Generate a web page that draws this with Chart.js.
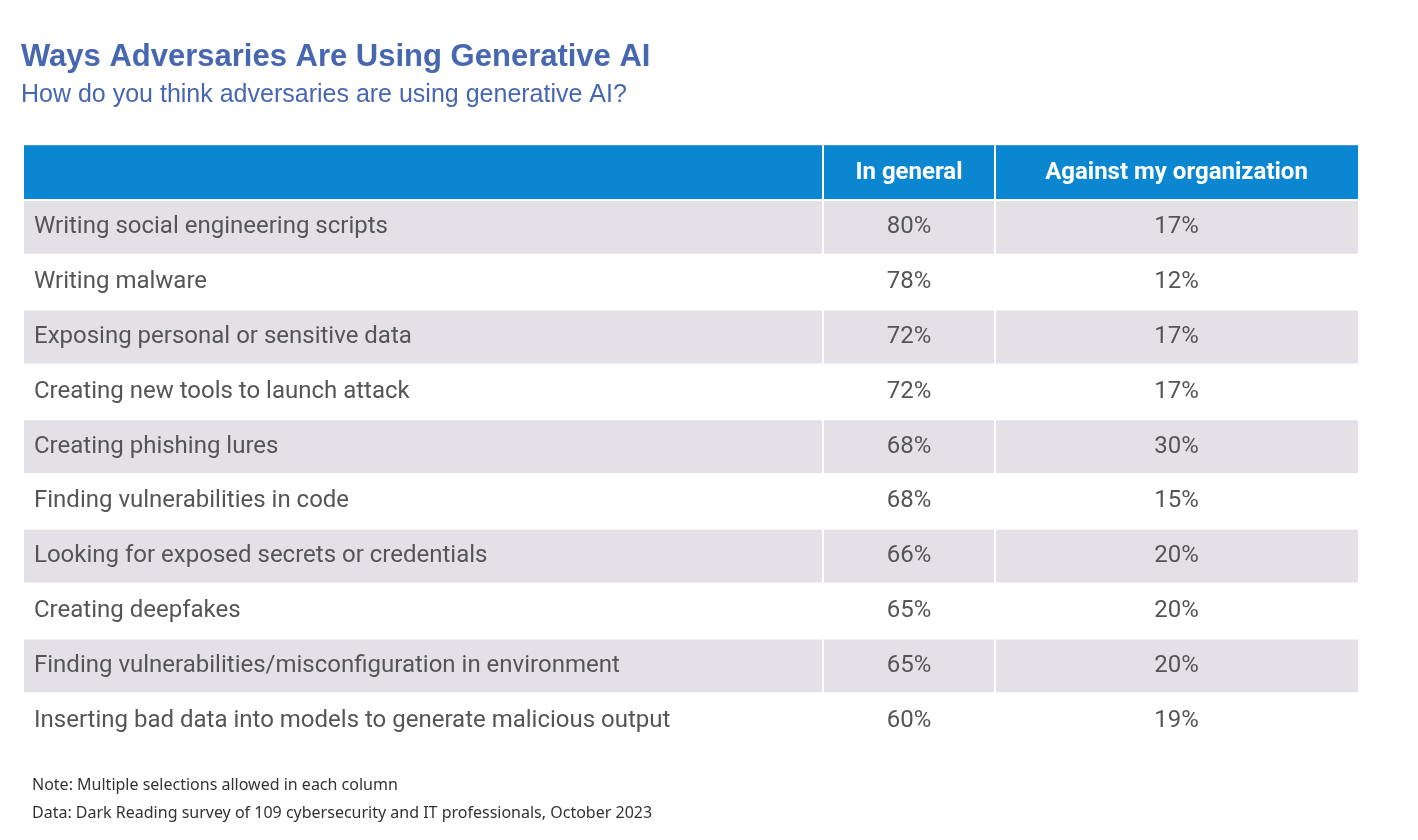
<!DOCTYPE html>
<html>
<head>
<meta charset="utf-8">
<script src="https://cdn.jsdelivr.net/npm/chart.js@4/dist/chart.umd.min.js"></script>
<style>
  html, body { margin: 0; padding: 0; background: #fff; }
  #wrap { width: 1418px; height: 840px; }
</style>
</head>
<body>
<div id="wrap"><canvas id="tbl"></canvas></div>
<script>
const titleText = 'Ways Adversaries Are Using Generative AI';
const subtitleText = 'How do you think adversaries are using generative AI?';
const columns = ['In general', 'Against my organization'];
const categories = [
    'Writing social engineering scripts',
    'Writing malware',
    'Exposing personal or sensitive data',
    'Creating new tools to launch attack',
    'Creating phishing lures',
    'Finding vulnerabilities in code',
    'Looking for exposed secrets or credentials',
    'Creating deepfakes',
    'Finding vulnerabilities/misconfiguration in environment',
    'Inserting bad data into models to generate malicious output'
];
const inGeneral = [80, 78, 72, 72, 68, 68, 66, 65, 65, 60];
const againstOrg = [17, 12, 17, 17, 30, 15, 20, 20, 20, 19];
const notes = [
    'Note: Multiple selections allowed in each column',
    'Data: Dark Reading survey of 109 cybersecurity and IT professionals, October 2023'
];

// draws the table cells from the y category scale
const tablePlugin = {
    id: 'tablePlugin',
    afterDraw(chart) {
        const ctx = chart.ctx;
        const area = chart.chartArea;
        const y = chart.scales.y;
        const rowH = y.getPixelForValue(1) - y.getPixelForValue(0);
        const col1 = 823, col2 = 995;

        ctx.save();
        // title
        ctx.fillStyle = '#4767b0';
        ctx.textBaseline = 'middle';
        ctx.textAlign = 'left';
        ctx.font = 'bold 31px "Liberation Sans", Arial, sans-serif';
        ctx.fillText(titleText, 21, 57);
        ctx.font = '25px "Liberation Sans", Arial, sans-serif';
        ctx.fillText(subtitleText, 21, 95);

        // header
        const headTop = area.top - rowH;
        ctx.fillStyle = '#0b86d1';
        ctx.fillRect(area.left, headTop, area.right - area.left, rowH);
        ctx.fillStyle = '#fff';
        ctx.font = 'bold 24px Roboto, sans-serif';
        ctx.textAlign = 'center';
        ctx.fillText(columns[0], (col1 + col2) / 2, headTop + rowH / 2);
        ctx.fillText(columns[1], (col2 + area.right) / 2, headTop + rowH / 2);

        // rows
        categories.forEach((c, i) => {
            const cy = y.getPixelForValue(i);
            const top = cy - rowH / 2;
            if (i % 2 === 0) {
                ctx.fillStyle = '#e4e1e6';
                ctx.fillRect(area.left, top, area.right - area.left, rowH);
            }
            ctx.fillStyle = '#555';
            ctx.font = '24px Roboto, sans-serif';
            ctx.textAlign = 'left';
            ctx.fillText(c, 34, cy);
            ctx.textAlign = 'center';
            ctx.fillText(inGeneral[i] + '%', (col1 + col2) / 2, cy);
            ctx.fillText(againstOrg[i] + '%', (col2 + area.right) / 2, cy);
        });

        // grid lines
        ctx.strokeStyle = '#fff';
        ctx.lineWidth = 2;
        ctx.beginPath();
        [col1, col2].forEach(x => {
            ctx.moveTo(x, headTop);
            ctx.lineTo(x, area.bottom);
        });
        for (let i = 0; i <= categories.length; i++) {
            const ly = area.top + i * rowH;
            ctx.moveTo(area.left, ly);
            ctx.lineTo(area.right, ly);
        }
        ctx.stroke();

        // notes
        ctx.fillStyle = '#333';
        ctx.font = '16px "Noto Sans", sans-serif';
        ctx.textAlign = 'left';
        ctx.fillText(notes[0], 32, 785);
        ctx.fillText(notes[1], 32, 813);
        ctx.restore();
    }
};

new Chart(document.getElementById('tbl'), {
    type: 'bar',
    data: {
        labels: categories,
        datasets: [
            { label: columns[0], data: inGeneral, backgroundColor: 'rgba(0,0,0,0)' },
            { label: columns[1], data: againstOrg, backgroundColor: 'rgba(0,0,0,0)' }
        ]
    },
    options: {
        indexAxis: 'y',
        responsive: true,
        maintainAspectRatio: false,
        animation: false,
        layout: { padding: { top: 200, bottom: 92, left: 24, right: 60 } },
        scales: {
            y: { display: false, offset: true },
            x: { display: false, min: 0, max: 100 }
        },
        plugins: { legend: { display: false }, tooltip: { enabled: false } }
    },
    plugins: [tablePlugin]
});
</script>
</body>
</html>
